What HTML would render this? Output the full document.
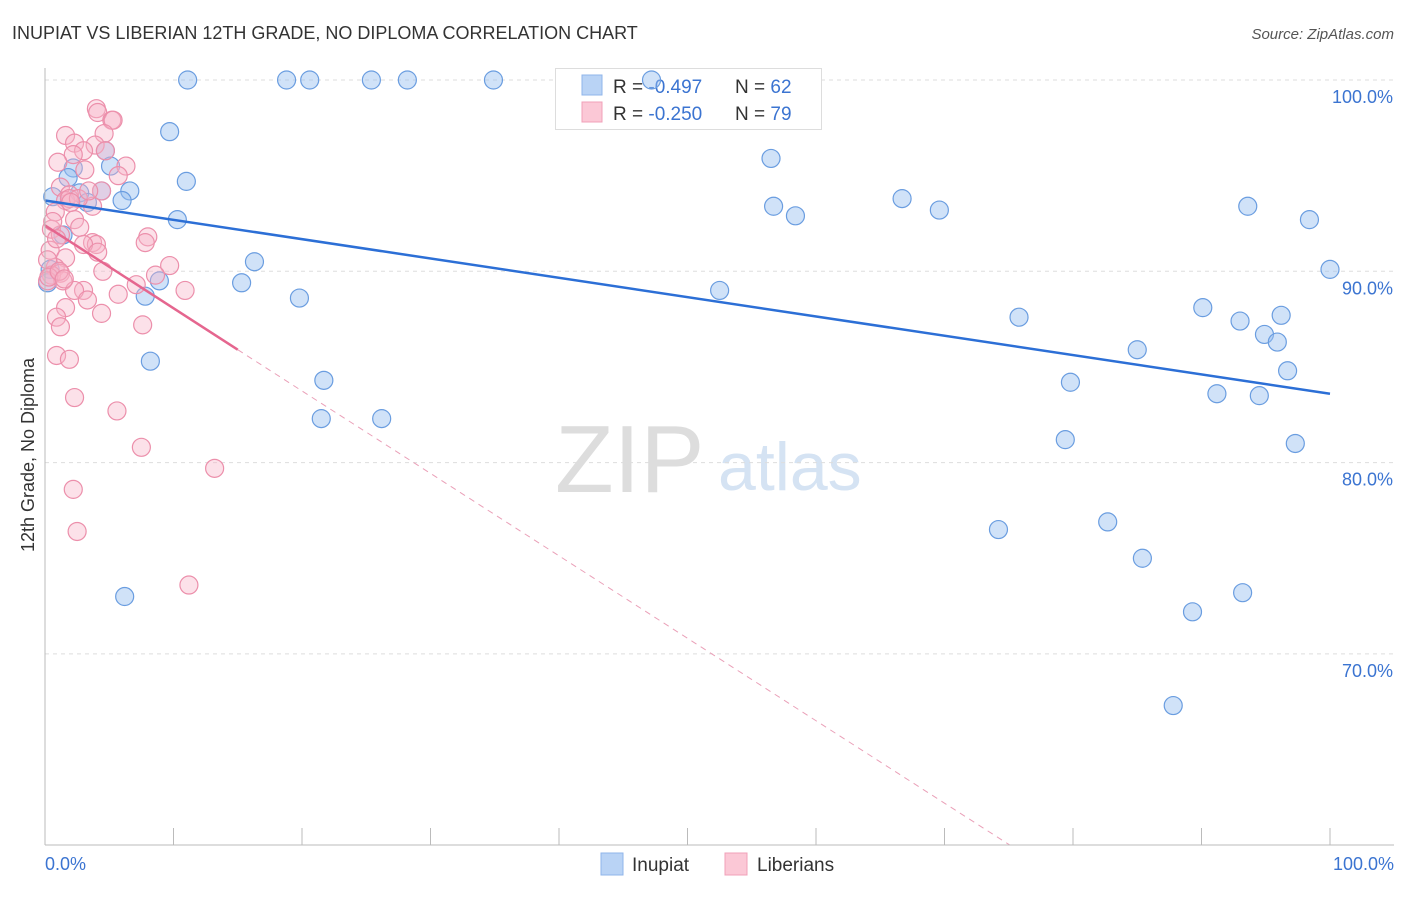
<!DOCTYPE html>
<html><head><meta charset="utf-8"><style>
body{margin:0;background:#fff;font-family:"Liberation Sans",sans-serif;}
svg text{font-family:"Liberation Sans",sans-serif;}
</style></head><body>
<svg id="c" width="1406" height="892">
<text x="12" y="39" font-size="18" fill="#333">INUPIAT VS LIBERIAN 12TH GRADE, NO DIPLOMA CORRELATION CHART</text>
<text x="1394" y="39" font-size="15" fill="#555" text-anchor="end" font-style="italic">Source: ZipAtlas.com</text>
<text x="34" y="455" font-size="18" fill="#333" text-anchor="middle" transform="rotate(-90 34 455)">12th Grade, No Diploma</text>
<text x="555" y="492" font-size="96" fill="#ddd" font-family="Liberation Serif">ZIP</text>
<text x="718" y="490" font-size="68" fill="#d5e3f3">atlas</text>
<g id="grid"></g><g id="ticks"></g>
<g>
<rect x="555.5" y="68.5" width="266" height="61" fill="#fff" stroke="#ddd"/>
<rect x="582" y="75" width="20" height="20" fill="#b9d3f5" stroke="#8fb5ea"/>
<rect x="582" y="102" width="20" height="20" fill="#fbc8d6" stroke="#f0a0b8"/>
<text x="613" y="93" font-size="19" fill="#333">R = <tspan fill="#3b74d1">-0.497</tspan></text>
<text x="735" y="93" font-size="19" fill="#333">N = <tspan fill="#3b74d1">62</tspan></text>
<text x="613" y="120" font-size="19" fill="#333">R = <tspan fill="#3b74d1">-0.250</tspan></text>
<text x="735" y="120" font-size="19" fill="#333">N = <tspan fill="#3b74d1">79</tspan></text>
</g>
<g id="pts"></g><g id="lines"></g>
<line x1="45" y1="68" x2="45" y2="845" stroke="#bbb"/>
<line x1="45" y1="845" x2="1394" y2="845" stroke="#bbb"/>
<text x="45" y="870" font-size="18" fill="#3b74d1">0.0%</text>
<text x="1394" y="870" font-size="18" fill="#3b74d1" text-anchor="end">100.0%</text>
<g>
<rect x="601" y="853" width="22" height="22" fill="#b9d3f5" stroke="#8fb5ea"/>
<text x="632" y="871" font-size="19" fill="#333">Inupiat</text>
<rect x="725" y="853" width="22" height="22" fill="#fbc8d6" stroke="#f0a0b8"/>
<text x="757" y="871" font-size="19" fill="#333">Liberians</text>
</g>
</svg>
<script>
const yTicks=[100,90,80,70];
const xTickVals=[0,10,20,30,40,50,60,70,80,90,100];
const blueX=[11.1,18.8,20.6,25.4,28.2,34.9,47.2,9.7,4.7,2.2,5.1,1.8,11.0,6.6,2.7,4.4,0.6,6.0,3.3,10.3,1.4,16.3,0.4,0.2,15.3,8.9,7.8,19.8,8.2,21.7,21.5,26.2,6.2,56.5,56.7,58.4,66.7,69.6,52.5,75.8,79.8,79.4,74.2,82.7,85.0,85.4,89.3,87.8,90.1,91.2,93.0,93.6,94.5,94.9,95.9,96.2,96.7,97.3,98.4,100,93.2];
const blueY=[100,100,100,100,100,100,100,97.3,96.3,95.4,95.5,94.9,94.7,94.2,94.1,94.2,93.9,93.7,93.6,92.7,91.9,90.5,90.1,89.4,89.4,89.5,88.7,88.6,85.3,84.3,82.3,82.3,73.0,95.9,93.4,92.9,93.8,93.2,89.0,87.6,84.2,81.2,76.5,76.9,85.9,75.0,72.2,67.3,88.1,83.6,87.4,93.4,83.5,86.7,86.3,87.7,84.8,81.0,92.7,90.1,73.2];
const pinkX=[4.0,4.1,5.2,5.3,1.6,4.6,2.3,3.9,3.0,2.2,4.7,1.0,6.3,3.1,5.7,4.4,1.2,1.9,1.6,3.7,0.8,2.3,2.7,0.5,1.2,8.0,7.8,3.7,4.0,3.0,4.1,0.4,1.6,9.7,0.8,4.5,1.2,0.5,8.6,0.2,1.4,7.1,10.9,3.0,2.3,5.7,3.3,1.6,4.4,0.9,7.6,1.2,0.9,1.9,2.3,5.6,7.5,13.2,2.2,2.5,11.2,0.9,0.2,1.9,2.6,0.3,1.1,0.6,2.0,3.4,1.5];
const pinkY=[98.5,98.3,97.9,97.9,97.1,97.2,96.7,96.6,96.3,96.1,96.3,95.7,95.5,95.3,95.0,94.2,94.4,94.0,93.7,93.4,93.1,92.7,92.3,92.2,91.9,91.8,91.5,91.5,91.4,91.4,91.0,91.1,90.7,90.3,90.2,90.0,89.9,89.8,89.8,89.5,89.5,89.3,89.0,89.0,89.0,88.8,88.5,88.1,87.8,87.6,87.2,87.1,85.6,85.4,83.4,82.7,80.8,79.7,78.6,76.4,73.6,91.7,90.6,93.8,93.8,89.7,90.0,92.6,93.6,94.2,89.6];
const blueTrend=[0,93.7,100,83.6];
const pinkTrend=[0,92.4,15,85.9,75.1,60];
const X=v=>45+v*12.85, Y=v=>80+(100-v)*19.13;
const NS='http://www.w3.org/2000/svg';
function mk(t,a,p){const e=document.createElementNS(NS,t);for(const k in a)e.setAttribute(k,a[k]);document.getElementById(p).appendChild(e);return e;}
yTicks.forEach(t=>{
 const l=mk('line',{x1:45,x2:1394,y1:Y(t),y2:Y(t),stroke:'#ddd','stroke-dasharray':'4,4'},'grid');
 
 
 const tx=mk('text',{x:1393,y:Y(t)+23,'font-size':18,fill:'#3b74d1','text-anchor':'end'},'grid');
 tx.textContent=t.toFixed(1)+'%';
 
 
});
xTickVals.forEach(t=>{
 const l=mk('line',{x1:X(t),x2:X(t),y1:828,y2:845,stroke:'#bbb'},'ticks');
 
 
});
blueX.forEach((v,i)=>{
 const c=mk('circle',{cx:X(v),cy:Y(blueY[i]),r:9,fill:'rgba(150,190,240,0.45)',stroke:'#6a9de0','stroke-width':1.2},'pts');
 
 
});
pinkX.forEach((v,i)=>{
 const c=mk('circle',{cx:X(v),cy:Y(pinkY[i]),r:9,fill:'rgba(248,180,200,0.4)',stroke:'#ec8fab','stroke-width':1.2},'pts');
 
 
});
const b=mk('line',{x1:X(blueTrend[0]),y1:Y(blueTrend[1]),x2:X(blueTrend[2]),y2:Y(blueTrend[3]),stroke:'#2c6fd6','stroke-width':2.5},'lines');


const p1=mk('line',{x1:X(pinkTrend[0]),y1:Y(pinkTrend[1]),x2:X(pinkTrend[2]),y2:Y(pinkTrend[3]),stroke:'#e5668f','stroke-width':2.5},'lines');


const p2=mk('line',{x1:X(pinkTrend[2]),y1:Y(pinkTrend[3]),x2:X(pinkTrend[4]),y2:Y(pinkTrend[5]),stroke:'#eaa0b8','stroke-width':1,'stroke-dasharray':'6,5'},'lines');


</script>
</body></html>
